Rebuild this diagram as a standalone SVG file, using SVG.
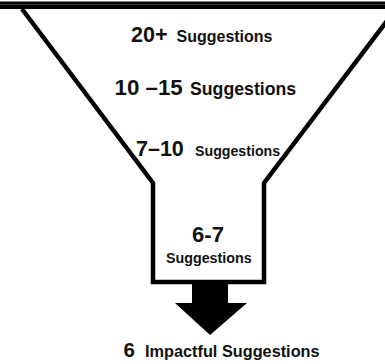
<svg xmlns="http://www.w3.org/2000/svg" width="385" height="364" viewBox="0 0 385 364">
<style>
text{font-family:"Liberation Sans",Arial,sans-serif;font-weight:bold;fill:#111}
.funnel{fill:#fff;stroke:#000;stroke-width:4.5;stroke-linejoin:miter}
</style>
<rect width="385" height="364" fill="#fff"/>
<g id="funnel">
<path class="funnel" d="M22 9 L153 183 L153 282 L264 282 L264 183 L396 9"/>
<rect x="0" y="1.5" width="385" height="7.5" fill="#000"/>
<line x1="0" y1="4.6" x2="385" y2="4.6" stroke="#666" stroke-width="0.6"/>
</g>
<g id="stage1">
<text y="42"><tspan x="131" font-size="21.5">20+</tspan><tspan x="176.5" font-size="16">Suggestions</tspan></text>
</g>
<g id="stage2">
<text y="95"><tspan x="114.5" font-size="22.3">10 –15</tspan><tspan x="190" font-size="17.7">Suggestions</tspan></text>
</g>
<g id="stage3">
<text y="156"><tspan x="136" font-size="21.5">7–10</tspan><tspan x="195" font-size="14.2">Suggestions</tspan></text>
</g>
<g id="stage4">
<text x="208" y="242" font-size="22" text-anchor="middle">6-7</text>
<text x="208.8" y="263" font-size="14.3" text-anchor="middle">Suggestions</text>
</g>
<g id="connectors">
<path d="M192 282 H228 V303 H247 L210 335 L175 303 H192 Z" fill="#000"/>
</g>
<g id="result">
<text y="357"><tspan x="123.5" font-size="20.5">6</tspan><tspan x="145" font-size="16.3">Impactful Suggestions</tspan></text>
</g>
</svg>
